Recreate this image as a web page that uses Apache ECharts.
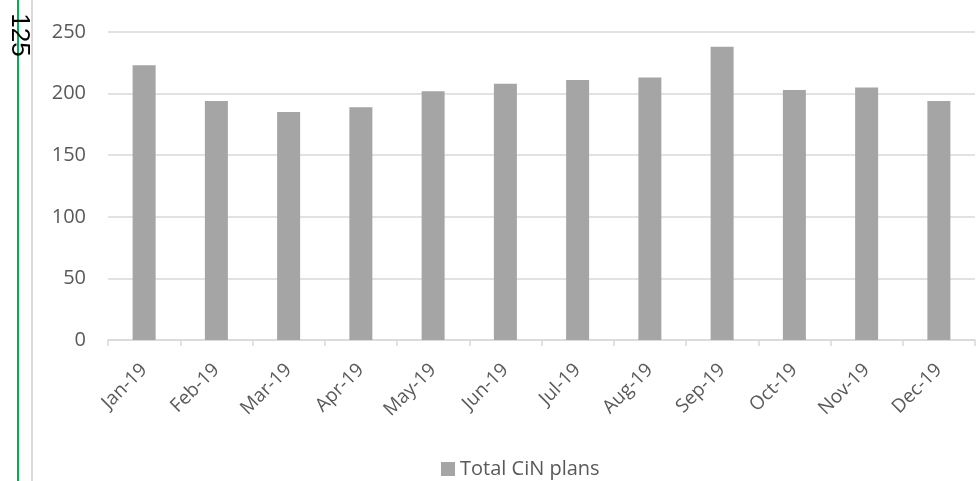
<!DOCTYPE html>
<html>
<head>
<meta charset="utf-8">
<script src="https://cdn.jsdelivr.net/npm/echarts@6/dist/echarts.min.js"></script>
<style>
  html, body { margin: 0; padding: 0; background: #fff; }
  #chart { width: 979px; height: 481px; }
</style>
</head>
<body>
<div id="chart"></div>
<script>
// Monthly data
const months = ['Jan-19', 'Feb-19', 'Mar-19', 'Apr-19', 'May-19', 'Jun-19',
  'Jul-19', 'Aug-19', 'Sep-19', 'Oct-19', 'Nov-19', 'Dec-19'];
const totalPlans = [223, 194, 185, 189, 202, 208, 211, 213, 238, 203, 205, 194];
const seriesName = 'Total CiN plans';
const pageMark = '125';

const chart = echarts.init(document.getElementById('chart'));

const font = '"Open Sans", "Liberation Sans", sans-serif';

chart.setOption({
  animation: false,
  grid: { left: 108, right: 4, top: 32, bottom: 141 },
  legend: {
    data: [seriesName],
    left: 436,
    top: 454,
    itemWidth: 14,
    itemHeight: 14,
    icon: 'rect',
    itemGap: 8,
    textStyle: { color: '#595959', fontSize: 20, fontFamily: font }
  },
  xAxis: {
    type: 'category',
    data: months,
    axisLine: { lineStyle: { color: '#d9d9d9', width: 1.5 } },
    axisTick: { show: true, length: 6, lineStyle: { color: '#d9d9d9', width: 1.5 } },
    axisLabel: {
      rotate: 45,
      color: '#595959',
      fontSize: 19,
      fontFamily: font,
      margin: 27
    }
  },
  yAxis: {
    type: 'value',
    min: 0,
    max: 250,
    interval: 50,
    axisLine: { show: false },
    axisTick: { show: false },
    axisLabel: { color: '#595959', fontSize: 20, fontFamily: font, margin: 22 },
    splitLine: { lineStyle: { color: '#d9d9d9', width: 1.5 } }
  },
  series: [{
    name: seriesName,
    type: 'bar',
    data: totalPlans,
    barWidth: 23,
    itemStyle: { color: '#a5a5a5' }
  }],
  graphic: [
    {
      type: 'line',
      shape: { x1: 18, y1: 0, x2: 18, y2: 481 },
      style: { stroke: '#00b050', lineWidth: 2 }
    },
    {
      type: 'line',
      shape: { x1: 32, y1: 0, x2: 32, y2: 481 },
      style: { stroke: '#d9d9d9', lineWidth: 2 }
    },
    {
      type: 'text',
      x: 19,
      y: 35,
      rotation: -Math.PI / 2,
      style: {
        text: pageMark,
        fill: '#000',
        font: '26px "Liberation Sans", Arial, sans-serif',
        align: 'center',
        verticalAlign: 'middle'
      }
    }
  ]
});
</script>
</body>
</html>
